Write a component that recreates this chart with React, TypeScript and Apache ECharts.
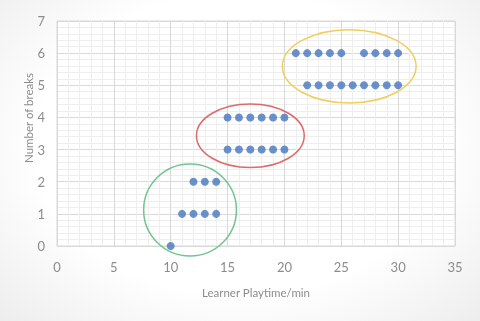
import React, { useEffect, useRef } from "react";
import * as echarts from "echarts";

const playtime: number[] = [10, 11, 12, 13, 14, 12, 13, 14, 15, 16, 17, 18, 19, 20, 15, 16, 17, 18, 19, 20, 21, 22, 23, 24, 25, 27, 28, 29, 30, 22, 23, 24, 25, 26, 27, 28, 29, 30];
const breaks: number[] = [0, 1, 1, 1, 1, 2, 2, 2, 3, 3, 3, 3, 3, 3, 4, 4, 4, 4, 4, 4, 6, 6, 6, 6, 6, 6, 6, 6, 6, 5, 5, 5, 5, 5, 5, 5, 5, 5];

// cluster ellipses: [centerX, centerY, radiusX, radiusY] in data units
const clusterCenterX: number[] = [11.7, 17.0, 25.7];
const clusterCenterY: number[] = [1.12, 3.43, 5.59];
const clusterRadiusX: number[] = [4.08, 4.74, 5.88];
const clusterRadiusY: number[] = [1.43, 0.99, 1.14];
const clusterColors: string[] = ["#70c490", "#e06868", "#f0cf5c"];

const xTicks = { min: 0, max: 35, interval: 5 };
const yTicks = { min: 0, max: 7, interval: 1 };
const xTitle = "Learner Playtime/min";
const yTitle = "Number of breaks";

export default function App() {
  const ref = useRef<HTMLDivElement>(null);
  useEffect(() => {
    if (!ref.current) return;
    const chart = echarts.init(ref.current, undefined, { renderer: "svg" });
    const points = playtime.map((x, i) => [x, breaks[i]]);
    const ellipses = clusterCenterX.map((cx, i) => [cx, clusterCenterY[i], clusterRadiusX[i], clusterRadiusY[i], i]);
    const labelColor = "#8c8c8c";
    chart.setOption({
      animation: false,
      backgroundColor: "transparent",
      grid: {
        left: 57,
        right: 25,
        top: 21,
        bottom: 75,
        show: true,
        backgroundColor: "#ffffff",
        borderColor: "#d9d9d9",
        borderWidth: 1,
      },
      graphic: [
        {
          type: "text",
          x: 28,
          y: 118,
          rotation: Math.PI / 2,
          style: {
            text: yTitle,
            fill: labelColor,
            fontSize: 11.5,
            fontFamily: "Lato",
            align: "center",
            verticalAlign: "middle",
          },
        },
      ],
      xAxis: {
        type: "value",
        min: xTicks.min,
        max: xTicks.max,
        interval: xTicks.interval,
        name: xTitle,
        nameLocation: "middle",
        nameGap: 40,
        nameTextStyle: { color: labelColor, fontSize: 11.5, fontFamily: "Lato" },
        axisLine: { show: false },
        axisTick: { show: false },
        axisLabel: { color: labelColor, fontSize: 13, fontFamily: "Lato", margin: 14 },
        splitLine: { show: true, lineStyle: { color: "#d9d9d9", width: 1 } },
        minorTick: { show: false, splitNumber: 5 },
        minorSplitLine: { show: true, lineStyle: { color: "#eeeeee", width: 1 } },
      },
      yAxis: {
        type: "value",
        min: yTicks.min,
        max: yTicks.max,
        interval: yTicks.interval,
        axisLine: { show: false },
        axisTick: { show: false },
        axisLabel: { color: labelColor, fontSize: 13, fontFamily: "Lato", margin: 12 },
        splitLine: { show: true, lineStyle: { color: "#d9d9d9", width: 1 } },
        minorTick: { show: false, splitNumber: 5 },
        minorSplitLine: { show: true, lineStyle: { color: "#eeeeee", width: 1 } },
      },
      series: [
        {
          type: "scatter",
          data: points,
          symbol: "circle",
          symbolSize: 8,
          itemStyle: { color: "#4676bd" },
          z: 3,
        },
        {
          type: "custom",
          data: ellipses,
          z: 4,
          silent: true,
          renderItem: (params: any, api: any) => {
            const c = api.coord([api.value(0), api.value(1)]);
            const s = api.size([api.value(2), api.value(3)]);
            const idx = api.value(4);
            return {
              type: "ellipse",
              shape: { cx: c[0], cy: c[1], rx: s[0], ry: s[1] },
              style: { fill: "none", stroke: clusterColors[idx], lineWidth: 1.5 },
            };
          },
        },
      ],
    });
    return () => chart.dispose();
  }, []);
  return (
    <div
      style={{
        position: "fixed",
        left: 0,
        top: 0,
        width: 480,
        height: 321,
        background: "radial-gradient(ellipse at 50% 45%, #ffffff 60%, #ededed 100%)",
      }}
    >
      <div ref={ref} style={{ width: 480, height: 321 }} />
    </div>
  );
}
